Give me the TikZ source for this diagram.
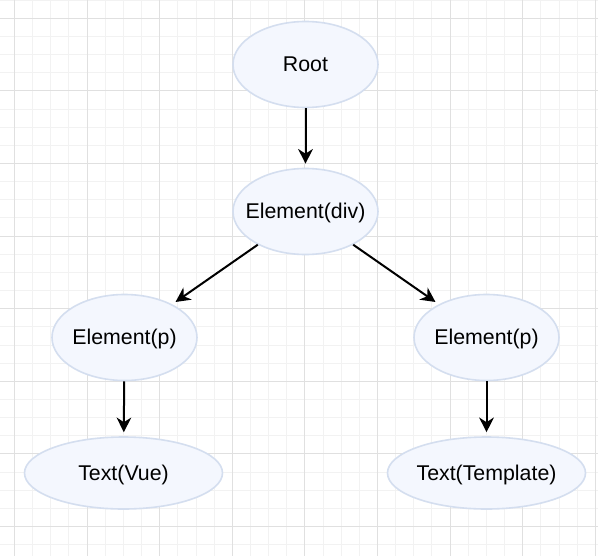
\documentclass[tikz,border=0pt]{standalone}
\usepackage{fontspec}
\setmainfont{Liberation Sans}
\usetikzlibrary{shapes.geometric,arrows.meta}
\definecolor{gridminor}{HTML}{F2F2F2}
\definecolor{gridmajor}{HTML}{E0E0E0}
\definecolor{nodefill}{HTML}{F4F7FE}
\definecolor{nodeline}{HTML}{D4DEEF}
\newcommand{\ctext}[1]{\makebox[0pt]{\smash{#1}\vphantom{R}}}
\tikzset{
  treenode/.style={ellipse, draw=nodeline, fill=nodefill, line width=1.2pt,
    inner sep=0pt, font=\fontsize{16}{18}\selectfont},
  smallnode/.style={treenode, minimum width=108.75pt, minimum height=64.5pt},
  widenode/.style={treenode, minimum width=148.5pt, minimum height=54pt},
  link/.style={line width=1.5pt, -{Stealth[length=11pt,width=11pt,inset=3.5pt]}, shorten >=3pt}
}
\begin{document}
\begin{tikzpicture}[x=0.75pt,y=-0.75pt]
\useasboundingbox (0,0) rectangle (598,556);
\fill[white] (0,0) rectangle (598,556);
% minor grid
\foreach \i in {-1,...,33} {
  \draw[gridminor, line width=0.75pt] ({14.5+18.15*\i},0) -- ({14.5+18.15*\i},556);
}
\foreach \j in {-1,...,31} {
  \draw[gridminor, line width=0.75pt] (0,{18.3+18.15*\j}) -- (598,{18.3+18.15*\j});
}
% major grid
\foreach \i in {0,...,8} {
  \draw[gridmajor, line width=0.75pt] ({14.5+72.6*\i},0) -- ({14.5+72.6*\i},556);
}
\foreach \j in {0,...,7} {
  \draw[gridmajor, line width=0.75pt] (0,{18.3+72.6*\j}) -- (598,{18.3+72.6*\j});
}
% nodes
\node[smallnode] (root) at (305.5,64.5) {\ctext{Root}};
\node[smallnode] (div) at (305.5,211.5) {\ctext{Element(div)}};
\node[smallnode] (pl) at (124.5,337.5) {\ctext{Element(p)}};
\node[smallnode] (pr) at (486.5,337.5) {\ctext{Element(p)}};
\node[widenode] (tv) at (123.5,473) {\ctext{Text(Vue)}};
\node[widenode] (tt) at (486.5,473) {\ctext{Text(Template)}};
% connectors
\draw[link] (root) -- (div);
\draw[link] (div) -- (pl);
\draw[link] (div) -- (pr);
\draw[link] (pl) -- (tv);
\draw[link] (pr) -- (tt);
\end{tikzpicture}
\end{document}
